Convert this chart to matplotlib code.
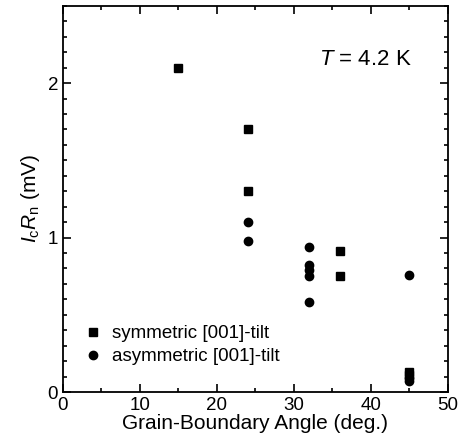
import numpy as np
import matplotlib
matplotlib.use("Agg")
import matplotlib.pyplot as plt
from matplotlib.ticker import MultipleLocator

plt.rcParams['font.family'] = ['Liberation Sans', 'DejaVu Sans']
plt.rcParams['mathtext.fontset'] = 'custom'
plt.rcParams['mathtext.rm'] = 'Liberation Sans'
plt.rcParams['mathtext.it'] = 'Liberation Sans:italic'

# symmetric [001]-tilt (squares)
sym_angle = [15, 24, 24, 36, 36, 45, 45]
sym_icrn = [2.10, 1.70, 1.30, 0.91, 0.75, 0.13, 0.11]

# asymmetric [001]-tilt (circles)
asym_angle = [24, 24, 32, 32, 32, 32, 32, 45, 45, 45]
asym_icrn = [1.10, 0.98, 0.94, 0.82, 0.79, 0.75, 0.58, 0.76, 0.09, 0.07]

fig = plt.figure(figsize=(4.59, 4.47), dpi=100)
ax = fig.add_axes([0.137, 0.123, 0.839, 0.864])

ax.plot(sym_angle, sym_icrn, 's', color='black', markersize=5.3, linestyle='none',
        label='symmetric [001]-tilt')
ax.plot(asym_angle, asym_icrn, 'o', color='black', markersize=6.0, linestyle='none',
        label='asymmetric [001]-tilt')

ax.set_xlim(0, 50)
ax.set_ylim(0, 2.5)
ax.xaxis.set_major_locator(MultipleLocator(10))
ax.xaxis.set_minor_locator(MultipleLocator(5))
ax.yaxis.set_major_locator(MultipleLocator(1))
ax.yaxis.set_minor_locator(MultipleLocator(0.1))
ax.tick_params(which='both', direction='in', right=True, top=True, labelsize=13.5, width=1.2)
ax.tick_params(which='major', length=6)
ax.tick_params(which='minor', length=3)
for s in ax.spines.values():
    s.set_linewidth(1.3)

ax.set_xlabel('Grain-Boundary Angle (deg.)', fontsize=15, labelpad=0)
ax.set_ylabel(r'$I_{\mathrm{c}}R_{\mathrm{n}}$ (mV)', fontsize=15, labelpad=4)

ax.text(0.906, 0.862, r'$T$ = 4.2 K', transform=ax.transAxes, ha='right', va='center',
        fontsize=16)

ax.legend(loc='lower left', bbox_to_anchor=(0.04, 0.05), frameon=False, fontsize=13.5,
          handlelength=0.8, handletextpad=0.6, borderaxespad=0, labelspacing=0.3)

fig.savefig('out.png', dpi=100)
